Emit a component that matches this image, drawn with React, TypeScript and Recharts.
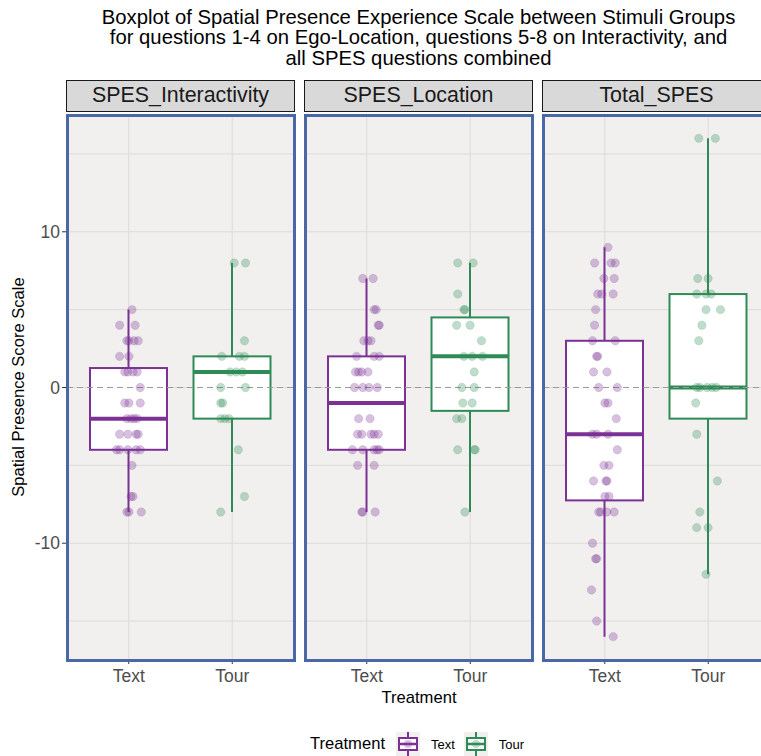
import { Bar, CartesianGrid, ComposedChart, ReferenceLine, Scatter, XAxis, YAxis } from "recharts"

const treatments = ["Text", "Tour"]
const facetNames = ["SPES_Interactivity", "SPES_Location", "Total_SPES"]
const yTicks = [-10, 0, 10]
const gridTicks = [-15, -10, -5, 0, 5, 10, 15]

// [min, q1, median, q3, max] for Text, Tour
const interactivityStats = [
  [-8, -4, -2, 1.25, 5],
  [-8, -2, 1, 2, 8],
]
const locationStats = [
  [-8, -4, -1, 2, 7],
  [-8, -1.5, 2, 4.5, 8],
]
const totalStats = [
  [-16, -7.25, -3, 3, 9],
  [-12, -2, 0, 6, 16],
]

// jittered points: [x, score]
const interactivityText = [
  [1.03, 5], [0.91, 4], [1.06, 4], [0.98, 3], [1.0, 3], [1.05, 3], [1.09, 3],
  [0.91, 2], [1.0, 2], [0.96, 1], [0.99, 1], [1.04, 1], [1.08, 1], [1.11, 0],
  [0.96, -1], [1.0, -1], [1.11, -1], [0.98, -2], [1.02, -2], [1.05, -2], [1.08, -2],
  [0.91, -3], [0.99, -3], [1.07, -3], [1.09, -3], [0.88, -4], [0.91, -4], [0.99, -4],
  [1.07, -4], [1.11, -4], [1.03, -5], [1.02, -7], [1.04, -7], [0.98, -8], [1.0, -8], [1.12, -8],
]
const interactivityTour = [
  [2.02, 8], [2.13, 8], [2.12, 3], [1.9, 2], [2.07, 2], [2.12, 2], [1.98, 1], [2.04, 1],
  [2.1, 1], [1.89, 0], [2.13, 0], [1.89, -1], [1.91, -1], [1.89, -2], [1.93, -2], [1.97, -2],
  [2.06, -4], [2.12, -7], [1.89, -8],
]
const locationText = [
  [0.96, 7], [1.06, 7], [1.07, 5], [1.09, 5], [1.12, 4], [1.11, 4], [0.97, 3], [1.01, 3],
  [1.04, 3], [0.9, 2], [1.07, 2], [1.12, 2], [0.89, 1], [0.92, 1], [0.95, 1], [1.01, 1],
  [0.88, 0], [0.96, 0], [1.02, 0], [1.1, 0], [0.92, -2], [1.03, -2], [0.91, -3], [0.95, -3],
  [1.04, -3], [1.07, -3], [1.11, -3], [0.86, -4], [0.96, -4], [1.07, -4], [1.1, -4], [1.12, -4],
  [0.91, -5], [1.07, -5], [0.95, -8], [0.96, -8], [1.08, -8],
]
const locationTour = [
  [1.88, 8], [2.03, 8], [1.88, 6], [1.94, 5], [1.95, 5], [1.87, 4], [2.0, 4], [2.11, 3],
  [1.94, 2], [2.02, 2], [2.12, 2], [2.04, 1], [1.92, 0], [2.04, 0], [1.93, -1], [2.02, -1],
  [1.87, -2], [1.92, -2], [1.88, -4], [2.04, -4], [2.05, -4], [1.95, -8],
]
const totalText = [
  [1.03, 9], [0.9, 8], [1.06, 8], [1.1, 8], [0.99, 7], [1.09, 7], [0.93, 6], [0.97, 6],
  [1.08, 6], [0.91, 5], [0.9, 4], [0.88, 3], [1.1, 3], [0.92, 2], [0.93, 2], [0.89, 1],
  [1.02, 1], [0.94, 0], [1.12, 0], [1.0, -1], [1.03, -1], [1.11, -2], [0.88, -3], [0.92, -3],
  [1.03, -3], [1.12, -4], [0.99, -5], [1.04, -5], [0.89, -6], [1.01, -6], [1.02, -6],
  [1.0, -7], [1.04, -7], [0.94, -8], [0.96, -8], [1.02, -8], [1.09, -8], [0.88, -10],
  [0.91, -11], [0.92, -11], [0.87, -13], [0.92, -15], [1.08, -16],
]
const totalTour = [
  [1.91, 16], [2.07, 16], [1.9, 7], [2.0, 7], [1.89, 6], [1.98, 6], [2.03, 6], [1.98, 5],
  [2.12, 5], [1.94, 4], [1.91, 3], [1.89, 0], [1.92, 0], [1.99, 0], [2.04, 0], [2.08, 0],
  [1.88, -1], [1.89, -3], [2.09, -6], [1.92, -8], [1.89, -9], [2.0, -9], [1.98, -12],
]

const colors: Record<string, string> = { Text: "#7b3294", Tour: "#2e8b57" }
const font = "'Liberation Sans', Arial, Helvetica, sans-serif"

const facets = [
  { name: facetNames[0], stats: interactivityStats, text: interactivityText, tour: interactivityTour },
  { name: facetNames[1], stats: locationStats, text: locationText, tour: locationTour },
  { name: facetNames[2], stats: totalStats, text: totalText, tour: totalTour },
]

const PANEL_W = 227
const PANEL_H = 545
const PANEL_TOP = 115
const AXIS_W = 67

function BoxShape(props: any) {
  const { x, y, width, height, payload } = props
  const [min, q1, med, q3, max] = payload.stats
  const color = colors[payload.treatment]
  const top = Math.min(y, y + height)
  const h = Math.abs(height)
  const toPx = (v: number) => top + (h * (max - v)) / (max - min)
  const cx = x + width / 2
  return (
    <g>
      <line x1={cx} x2={cx} y1={toPx(max)} y2={toPx(min)} stroke={color} strokeWidth={2} />
      <rect x={x} y={toPx(q3)} width={width} height={toPx(q1) - toPx(q3)} fill="#ffffff" stroke={color} strokeWidth={2} />
      <line x1={x} x2={x + width} y1={toPx(med)} y2={toPx(med)} stroke={color} strokeWidth={4} />
    </g>
  )
}

const dot = (color: string) => (p: any) => (
  <circle cx={p.cx} cy={p.cy} r={4.2} fill={color} fillOpacity={0.3} stroke={color} strokeOpacity={0.15} />
)

function Facet({ facet, index }: { facet: (typeof facets)[number]; index: number }) {
  const showY = index === 0
  const left = AXIS_W + index * (PANEL_W + 11)
  const rows = treatments.map((t, i) => ({
    treatment: t,
    range: [facet.stats[i][0], facet.stats[i][4]],
    stats: facet.stats[i],
  }))
  const textPts = facet.text.map(([x, y]) => ({ x, y }))
  const tourPts = facet.tour.map(([x, y]) => ({ x, y }))
  return (
    <>
      <div
        style={{
          position: "absolute",
          left: left - 1,
          top: 80,
          width: PANEL_W + 2,
          height: 32,
          boxSizing: "border-box",
          border: "1.5px solid #1a1a1a",
          background: "#d9d9d9",
          fontSize: 21.4,
          lineHeight: "29px",
          textAlign: "center",
          color: "#1a1a1a",
          whiteSpace: "nowrap",
        }}
      >
        {facet.name}
      </div>
      <div style={{ position: "absolute", left: showY ? 0 : left, top: PANEL_TOP }}>
        <ComposedChart
          width={PANEL_W + (showY ? AXIS_W : 0)}
          height={PANEL_H + 32}
          data={rows}
          margin={{ top: 0, right: 0, bottom: 0, left: 0 }}
        >
          <CartesianGrid yAxisId="grid" fill="#f1f0ee" fillOpacity={1} stroke="#dcdbd9" strokeWidth={1} />
          <XAxis
            dataKey="treatment"
            type="category"
            padding={{ left: 10, right: 10 }}
            axisLine={false}
            tickSize={4}
            tickMargin={6}
            height={32}
            tickLine={{ stroke: "#333333" }}
            tick={{ fill: "#4d4d4d", fontSize: 17.5, fontFamily: font }}
          />
          <XAxis xAxisId="jit" type="number" dataKey="x" domain={[0.4, 2.6]} hide />
          <YAxis
            domain={[-17.5, 17.5]}
            ticks={yTicks}
            hide={!showY}
            width={AXIS_W}
            axisLine={false}
            tickSize={5}
            tickMargin={2}
            tickLine={{ stroke: "#333333" }}
            tick={{ fill: "#4d4d4d", fontSize: 17.5, fontFamily: font }}
            allowDataOverflow
          />
          <YAxis yAxisId="grid" domain={[-17.5, 17.5]} ticks={gridTicks} hide allowDataOverflow />
          <Bar dataKey="range" barSize={77} shape={BoxShape} isAnimationActive={false} />
          <ReferenceLine y={0} stroke="#9a9a9a" strokeWidth={1.2} strokeDasharray="6 4" />
          <Scatter xAxisId="jit" data={textPts} dataKey="y" shape={dot(colors.Text)} isAnimationActive={false} />
          <Scatter xAxisId="jit" data={tourPts} dataKey="y" shape={dot(colors.Tour)} isAnimationActive={false} />
        </ComposedChart>
      </div>
      <div
        style={{
          position: "absolute",
          left: left - 1.5,
          top: PANEL_TOP - 1.5,
          width: PANEL_W + 3,
          height: PANEL_H + 3,
          boxSizing: "border-box",
          border: "3px solid #4a68a6",
          pointerEvents: "none",
        }}
      />
    </>
  )
}

function LegendKey({ color }: { color: string }) {
  return (
    <svg width={24} height={24} style={{ display: "block" }}>
      <rect x={0} y={0} width={24} height={24} fill="#f1f0ee" />
      <line x1={12} x2={12} y1={0} y2={24} stroke={color} strokeWidth={2} />
      <rect x={3} y={6} width={18} height={12} fill="#ffffff" stroke={color} strokeWidth={2} />
      <line x1={3} x2={21} y1={12} y2={12} stroke={color} strokeWidth={2.5} />
      <circle cx={12} cy={12} r={4} fill={color} fillOpacity={0.3} />
    </svg>
  )
}

export default function App() {
  return (
    <div
      style={{
        position: "absolute",
        left: 0,
        top: 0,
        width: 761,
        height: 756,
        overflow: "hidden",
        background: "#ffffff",
        fontFamily: font,
      }}
    >
      <div
        style={{
          position: "absolute",
          left: AXIS_W - 20,
          top: 6.5,
          width: 743,
          textAlign: "center",
          fontSize: 20.3,
          lineHeight: "20.5px",
          color: "#000000",
          whiteSpace: "nowrap",
        }}
      >
        <div>Boxplot of Spatial Presence Experience Scale between Stimuli Groups</div>
        <div>for questions 1-4 on Ego-Location, questions 5-8 on Interactivity, and</div>
        <div>all SPES questions combined</div>
      </div>
      {facets.map((f, i) => (
        <Facet key={f.name} facet={f} index={i} />
      ))}
      <div
        style={{
          position: "absolute",
          left: 19,
          top: 387,
          transform: "translate(-50%, -50%) rotate(-90deg)",
          whiteSpace: "nowrap",
          fontSize: 16.6,
          color: "#000000",
        }}
      >
        Spatial Presence Score Scale
      </div>
      <div
        style={{
          position: "absolute",
          left: 419,
          top: 698,
          transform: "translate(-50%, -50%)",
          fontSize: 16.6,
          color: "#000000",
          whiteSpace: "nowrap",
        }}
      >
        Treatment
      </div>
      <div
        style={{
          position: "absolute",
          left: 310,
          top: 732,
          height: 24,
          display: "flex",
          alignItems: "center",
          fontSize: 16.6,
          color: "#000000",
          whiteSpace: "nowrap",
        }}
      >
        <span style={{ marginRight: 11 }}>Treatment</span>
        {treatments.map((t) => (
          <span key={t} style={{ display: "flex", alignItems: "center", marginRight: 9 }}>
            <LegendKey color={colors[t]} />
            <span style={{ fontSize: 13, marginLeft: 11 }}>{t}</span>
          </span>
        ))}
      </div>
    </div>
  )
}
